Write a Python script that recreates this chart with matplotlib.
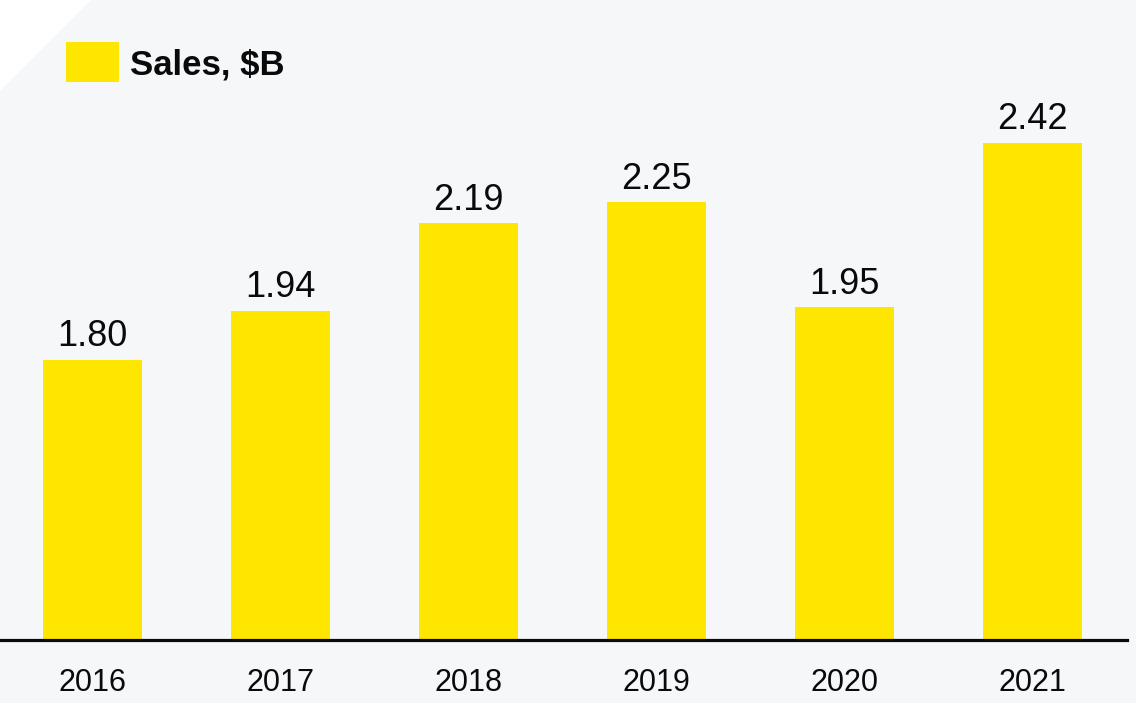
import matplotlib
matplotlib.use("Agg")
import matplotlib.pyplot as plt
from matplotlib.patches import Polygon, Rectangle

years = ["2016", "2017", "2018", "2019", "2020", "2021"]
sales = [1.80, 1.94, 2.19, 2.25, 1.95, 2.42]
series_name = "Sales, $B"

BAR_COLOR = "#FFE600"
PANEL_COLOR = "#F6F7F9"
TEXT_COLOR = "#0A0A0A"

plt.rcParams["font.family"] = ["Liberation Sans", "DejaVu Sans"]

W, H = 1136, 703
fig = plt.figure(figsize=(W / 100, H / 100), dpi=100, facecolor="white")

# light panel with a clipped top-left corner
cut = 91
panel = Polygon(
    [(0, 0), (W, 0), (W, H), (cut, H), (0, H - cut)],
    closed=True, transform=None, facecolor=PANEL_COLOR, edgecolor="none", zorder=-5,
)
fig.patches.append(panel)

base_px = 640
ax = fig.add_axes([0, (H - base_px) / H, 1127 / W, base_px / H])
ax.set_facecolor("none")
ax.set_zorder(1)

x = list(range(len(years)))
bars = ax.bar(x, sales, width=0.526, color=BAR_COLOR, zorder=2)

ax.set_xlim(-0.49, 5.5)
ax.set_ylim(1.0, 1.0 + base_px / 350.0)

for xi, v in zip(x, sales):
    ax.annotate(f"{v:.2f}", (xi, v), xytext=(0, 4), textcoords="offset points",
                ha="center", va="bottom", fontsize=26, color=TEXT_COLOR)

ax.set_xticks(x)
ax.set_xticklabels(years, fontsize=22, color=TEXT_COLOR)
ax.tick_params(axis="x", length=0, pad=20)
ax.set_yticks([])
for s in ("top", "left", "right"):
    ax.spines[s].set_visible(False)
ax.spines["bottom"].set_linewidth(2.3)
ax.spines["bottom"].set_color(TEXT_COLOR)

# legend: swatch and bold label
fig.patches.append(Rectangle((66, H - 82), 53, 40, transform=None,
                             facecolor=BAR_COLOR, edgecolor="none", zorder=3))
fig.text(130 / W, 1 - 65 / H, series_name, fontsize=25, fontweight="bold",
         ha="left", va="center", color=TEXT_COLOR)

fig.savefig("out.png", dpi=100, facecolor=fig.get_facecolor())
